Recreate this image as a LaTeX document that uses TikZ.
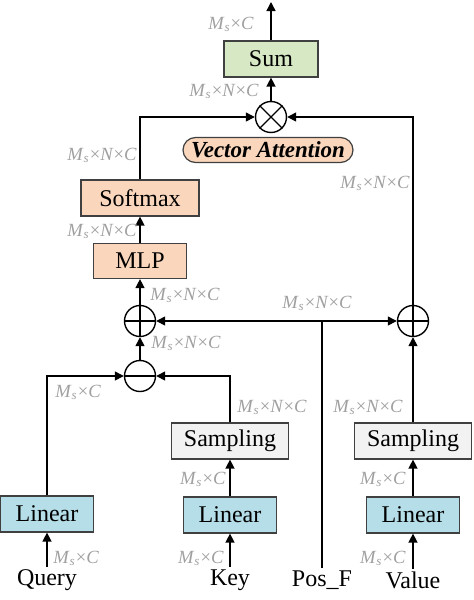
\documentclass[tikz,border=0pt]{standalone}
\usepackage{fontspec}
\setmainfont{Liberation Serif}
\usepackage{tikz}
\usetikzlibrary{arrows.meta,calc,positioning}

\definecolor{sumgreen}{RGB}{214,232,196}
\definecolor{peach}{RGB}{250,215,188}
\definecolor{boxgray}{RGB}{242,242,242}
\definecolor{linblue}{RGB}{182,222,232}
\definecolor{dimgray}{RGB}{160,160,160}

\newcommand{\MsC}{\textit{M}\textsubscript{\textit{s}}×\textit{C}}
\newcommand{\MsNC}{\textit{M}\textsubscript{\textit{s}}×\textit{N}×\textit{C}}

\begin{document}
\begin{tikzpicture}[
  x=0.5pt, y=-0.5pt,
  block/.style={rectangle, draw=black!75, line width=0.6pt, minimum height=18pt, inner sep=0pt, font=\fontsize{12}{14}\selectfont},
  op/.style={circle, draw=black, line width=0.7pt, minimum size=15.5pt, inner sep=0pt},
  dim/.style={font=\fontsize{9.3}{10}\selectfont, text=dimgray, inner sep=0pt},
  io/.style={font=\fontsize{12}{14}\selectfont, inner sep=1pt},
  arr/.style={line width=0.7pt, -{Triangle[length=4.5pt,width=4.5pt]}},
  ln/.style={line width=0.7pt}
]
  \useasboundingbox (0,0) rectangle (474,600);

  % inputs
  \node[io] (query) at (47,580)  {Query};
  \node[io] (key)   at (230,580) {Key};
  \node[io] (posf)  at (322,580) {Pos\_F};
  \node[io] (value) at (413,580) {Value};

  % blocks
  \node[block, fill=linblue, minimum width=46.5pt] (lin1) at (47,514)  {Linear};
  \node[block, fill=linblue, minimum width=46.5pt] (lin2) at (230,515) {Linear};
  \node[block, fill=linblue, minimum width=46.5pt] (lin3) at (413,515) {Linear};
  \node[block, fill=boxgray, minimum width=58.5pt] (samp1) at (230,441) {Sampling};
  \node[block, fill=boxgray, minimum width=58.5pt] (samp2) at (413,441) {Sampling};
  \node[block, fill=peach, minimum width=46.5pt, minimum height=17.5pt] (mlp) at (140,261) {MLP};
  \node[block, fill=peach, minimum width=59pt] (softmax) at (140,198) {Softmax};
  \node[block, fill=sumgreen, minimum width=47pt] (sum) at (271,59) {Sum};
  \node[rectangle, rounded corners=6.25pt, draw=black!75, line width=0.6pt, fill=peach,
        minimum width=85pt, minimum height=12.5pt, inner sep=0pt,
        font=\fontsize{11.5}{13}\selectfont\bfseries\itshape] (va) at (268,150) {Vector Attention};

  % operators
  \node[op] (minus) at (140,376) {};
  \draw[ln] (minus.west) -- (minus.east);
  \node[op] (plus1) at (140,321) {};
  \draw[ln] (plus1.west) -- (plus1.east) (plus1.north) -- (plus1.south);
  \node[op] (plus2) at (413,321) {};
  \draw[ln] (plus2.west) -- (plus2.east) (plus2.north) -- (plus2.south);
  \node[op] (times) at (271,117) {};
  \draw[ln] (times.north west) -- (times.south east) (times.north east) -- (times.south west);

  \coordinate (junc) at (322,321);
  \coordinate (out) at (271,2);

  % connections
  \draw[arr] (query) -- (lin1);
  \draw[arr] (key) -- (lin2);
  \draw[arr] (value) -- (lin3);
  \draw[arr] (lin2) -- (samp1);
  \draw[arr] (lin3) -- (samp2);
  \draw[arr] (lin1) |- (minus);
  \draw[arr] (samp1) |- (minus);
  \draw[arr] (minus) -- (plus1);
  \draw[ln] (posf) -- (junc);
  \draw[arr] (junc) -- (plus1);
  \draw[arr] (junc) -- (plus2);
  \draw[arr] (samp2) -- (plus2);
  \draw[arr] (plus1) -- (mlp);
  \draw[arr] (mlp) -- (softmax);
  \draw[arr] (softmax) |- (times);
  \draw[arr] (plus2) |- (times);
  \draw[arr] (times) -- (sum);
  \draw[arr] (sum) -- (out);

  % dimension labels
  \node[dim, anchor=west] at (53,558)  {\MsC};
  \node[dim, anchor=east] at (224,558) {\MsC};
  \node[dim, anchor=east] at (406,558) {\MsC};
  \node[dim, anchor=east] at (226,479) {\MsC};
  \node[dim, anchor=east] at (406,479) {\MsC};
  \node[dim, anchor=west] at (237,407) {\MsNC};
  \node[dim, anchor=east] at (403,407) {\MsNC};
  \node[dim, anchor=west] at (55,392)  {\MsC};
  \node[dim, anchor=west] at (151,343) {\MsNC};
  \node[dim] at (317,303) {\MsNC};
  \node[dim, anchor=west] at (150,295) {\MsNC};
  \node[dim, anchor=east] at (137,231) {\MsNC};
  \node[dim, anchor=east] at (137,155) {\MsNC};
  \node[dim, anchor=east] at (410,183) {\MsNC};
  \node[dim] at (224,91) {\MsNC};
  \node[dim] at (231,24) {\MsC};
\end{tikzpicture}
\end{document}
